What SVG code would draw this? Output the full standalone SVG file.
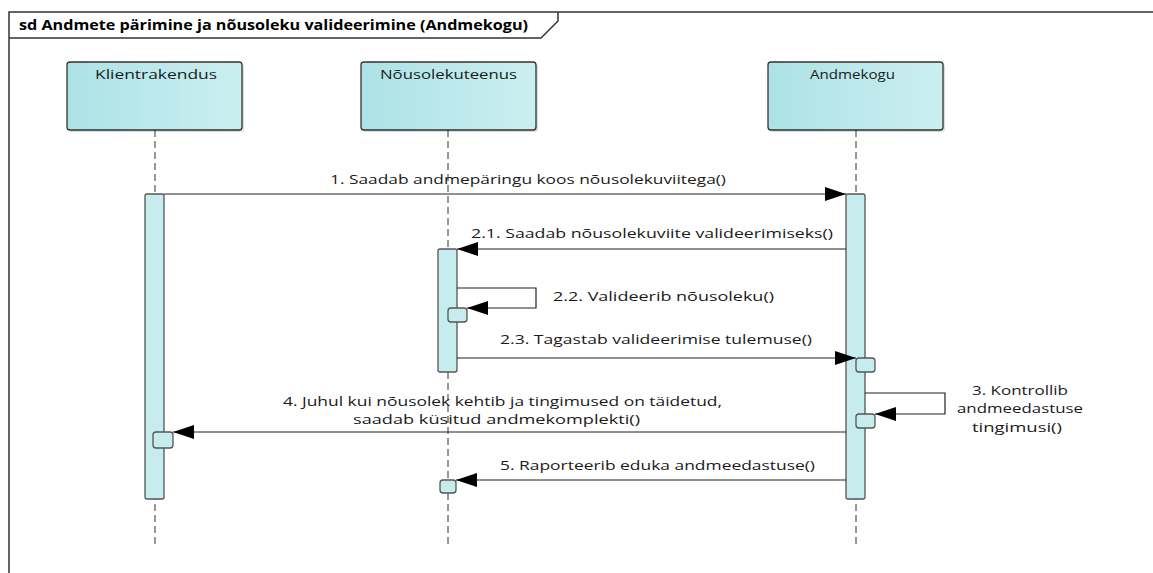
<svg xmlns="http://www.w3.org/2000/svg" width="1153" height="573" viewBox="0 0 1153 573">
<style>
text{font-family:"Open Sans","Liberation Sans",sans-serif;font-size:13px;fill:#1a1a1a}
.t{font-weight:bold;font-size:13.5px;fill:#000}
.head{fill:url(#hg);stroke:#333;stroke-width:1.3}
.shadow{fill:#bbb;opacity:0.5}
.life{stroke:#333;stroke-width:1;stroke-dasharray:7 4;fill:none}
.act{fill:#c6ecee;stroke:#555;stroke-width:1.3}
.msg{stroke:#222;stroke-width:1.2;fill:none}
.frame{stroke:#333;stroke-width:1.5;fill:none}
</style>
<defs>
<linearGradient id="hg" x1="0" y1="0" x2="1" y2="0">
<stop offset="0" stop-color="#ace2e6"/>
<stop offset="1" stop-color="#cbeff1"/>
</linearGradient>
<marker id="ah" markerWidth="22" markerHeight="16" refX="21" refY="8" orient="auto" markerUnits="userSpaceOnUse">
<path d="M0,1 L21,8 L0,15 Z" fill="#000"/>
</marker>
</defs>
<rect width="1153" height="573" fill="#fff"/>
<g id="frame">
<path class="frame" d="M9,573 V12 H1153"/>
<path class="frame" d="M9,38 H541 L558,21 V12"/>
<text class="t" x="19" y="30" textLength="509" lengthAdjust="spacingAndGlyphs">sd Andmete pärimine ja nõusoleku valideerimine (Andmekogu)</text>
</g>
<g id="klientrakendus">
<rect class="shadow" x="69" y="64" width="175" height="68" rx="3"/>
<rect class="head" x="67" y="62" width="175" height="68" rx="3"/>
<text x="95" y="79" textLength="122" lengthAdjust="spacingAndGlyphs">Klientrakendus</text>
<line class="life" x1="155" y1="130" x2="155" y2="546"/>
<rect class="act" x="145" y="194" width="19" height="305" rx="2"/>
<rect class="act" x="153" y="432" width="20" height="16" rx="3"/>
</g>
<g id="nousolekuteenus">
<rect class="shadow" x="363" y="64" width="175" height="68" rx="3"/>
<rect class="head" x="361" y="62" width="175" height="68" rx="3"/>
<text x="380" y="79" textLength="137" lengthAdjust="spacingAndGlyphs">Nõusolekuteenus</text>
<line class="life" x1="448" y1="130" x2="448" y2="546"/>
<rect class="act" x="438" y="249" width="19" height="123" rx="2"/>
<rect class="act" x="448" y="308" width="19" height="14" rx="3"/>
<rect class="act" x="440" y="480" width="16" height="13" rx="3"/>
</g>
<g id="andmekogu">
<rect class="shadow" x="770" y="64" width="175" height="68" rx="3"/>
<rect class="head" x="768" y="62" width="175" height="68" rx="3"/>
<text x="810" y="79" textLength="85" lengthAdjust="spacingAndGlyphs">Andmekogu</text>
<line class="life" x1="856" y1="130" x2="856" y2="546"/>
<rect class="act" x="846" y="194" width="19" height="305" rx="2"/>
<rect class="act" x="856" y="358" width="19" height="14" rx="3"/>
<rect class="act" x="856" y="414" width="19" height="14" rx="3"/>
</g>
<g id="connectors">
<line class="msg" x1="164" y1="194" x2="846" y2="194" marker-end="url(#ah)"/>
<text x="330" y="184" textLength="396" lengthAdjust="spacingAndGlyphs">1. Saadab andmepäringu koos nõusolekuviitega()</text>
<line class="msg" x1="846" y1="249" x2="457" y2="249" marker-end="url(#ah)"/>
<text x="471" y="238" textLength="362" lengthAdjust="spacingAndGlyphs">2.1. Saadab nõusolekuviite valideerimiseks()</text>
<polyline class="msg" points="457,288 536,288 536,308 467,308" marker-end="url(#ah)"/>
<text x="553" y="301" textLength="221" lengthAdjust="spacingAndGlyphs">2.2. Valideerib nõusoleku()</text>
<line class="msg" x1="457" y1="358" x2="856" y2="358" marker-end="url(#ah)"/>
<text x="500" y="344" textLength="312" lengthAdjust="spacingAndGlyphs">2.3. Tagastab valideerimise tulemuse()</text>
<polyline class="msg" points="865,393 945,393 945,414 875,414" marker-end="url(#ah)"/>
<text x="972" y="395" textLength="96" lengthAdjust="spacingAndGlyphs">3. Kontrollib</text>
<text x="957" y="413" textLength="126" lengthAdjust="spacingAndGlyphs">andmeedastuse</text>
<text x="972" y="432" textLength="90" lengthAdjust="spacingAndGlyphs">tingimusi()</text>
<line class="msg" x1="846" y1="432" x2="173" y2="432" marker-end="url(#ah)"/>
<text x="283" y="406" textLength="439" lengthAdjust="spacingAndGlyphs">4. Juhul kui nõusolek kehtib ja tingimused on täidetud,</text>
<text x="353" y="424" textLength="287" lengthAdjust="spacingAndGlyphs">saadab küsitud andmekomplekti()</text>
<line class="msg" x1="846" y1="480" x2="456" y2="480" marker-end="url(#ah)"/>
<text x="500" y="470" textLength="315" lengthAdjust="spacingAndGlyphs">5. Raporteerib eduka andmeedastuse()</text>
</g>
</svg>
